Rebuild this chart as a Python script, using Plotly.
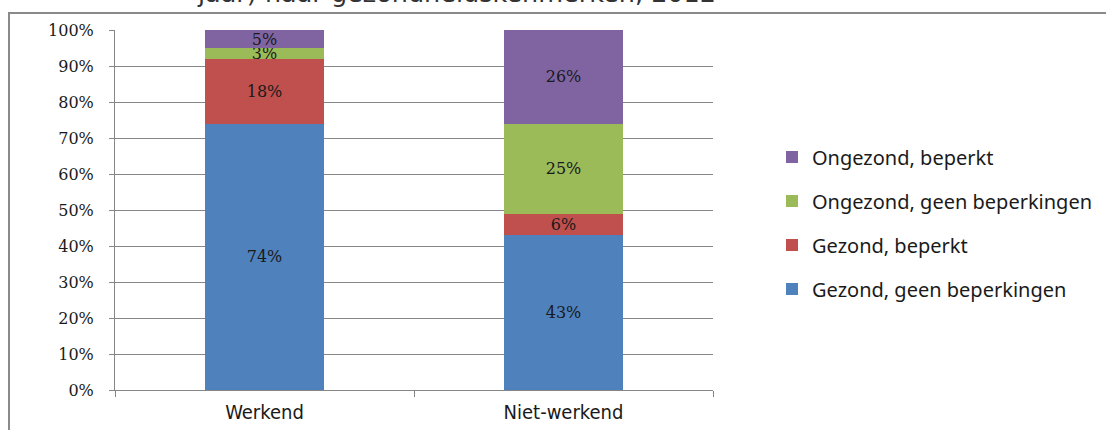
import plotly.graph_objects as go

categories = ["Werkend", "Niet-werkend"]
series_names = ["Gezond, geen beperkingen", "Gezond, beperkt", "Ongezond, geen beperkingen", "Ongezond, beperkt"]
gezond_geen = [74, 43]
gezond_beperkt = [18, 6]
ongezond_geen = [3, 25]
ongezond_beperkt = [5, 26]
colors = ["#4F81BD", "#C0504D", "#9BBB59", "#8064A2"]
y_ticks = [0, 10, 20, 30, 40, 50, 60, 70, 80, 90, 100]
title_text = "jaar) naar gezondheidskenmerken, 2012"

W, H = 1106, 430
L, R, T, B = 115, 393, 30, 40
pw, ph = W - L - R, H - T - B

fig = go.Figure()
all_vals = [gezond_geen, gezond_beperkt, ongezond_geen, ongezond_beperkt]
for i, (name, vals) in enumerate(zip(series_names, all_vals)):
    fig.add_trace(go.Bar(
        x=categories, y=vals, name=name, marker_color=colors[i],
        marker_line_width=0, width=0.4,
        text=[f"{v}%" for v in vals], textposition="inside", insidetextanchor="middle",
        textangle=0, constraintext="none",
        textfont=dict(family="DejaVu Serif", size=16, color="#1a1a1a"),
        legendgroup=name, legendrank=len(series_names) - i, hoverinfo="skip",
    ))

fig.update_layout(
    width=W, height=H, barmode="stack",
    margin=dict(l=L, r=R, t=T, b=B, autoexpand=False),
    paper_bgcolor="white", plot_bgcolor="white",
    showlegend=True,
    legend=dict(traceorder="grouped", tracegroupgap=15,
                x=(772 - L) / pw, y=1 - (223 - T) / ph, xanchor="left", yanchor="middle",
                font=dict(family="Noto Sans", size=20, color="#1a1a1a"),
                itemwidth=30),
    xaxis=dict(tickson="boundaries", ticks="outside", ticklen=6, tickcolor="#868686",
               showline=True, linecolor="#868686", showgrid=False, automargin=False,
               tickfont=dict(family="DejaVu Sans Condensed, DejaVu Sans", size=20, color="#1a1a1a"),
               range=[-0.5, 1.5], ticklabelstandoff=4),
    yaxis=dict(range=[0, 100], tickvals=y_ticks, ticktext=[f"{v}%" for v in y_ticks],
               ticks="outside", ticklen=5, tickcolor="#868686", automargin=False,
               showline=True, linecolor="#868686", showgrid=True, gridcolor="#868686", gridwidth=1,
               tickfont=dict(family="DejaVu Serif", size=16, color="#1a1a1a"),
               zeroline=False, ticklabelstandoff=12),
    shapes=[dict(type="rect", xref="paper", yref="paper",
                 x0=(9 - L) / pw, x1=(1200 - L) / pw,
                 y0=1 - (500 - T) / ph, y1=1 + (T - 13) / ph,
                 line=dict(color="#8a8a8a", width=2), fillcolor="rgba(0,0,0,0)", layer="below")],
    annotations=[dict(text=title_text, xref="paper", yref="paper",
                      x=(457 - L) / pw, y=1 + (T + 7) / ph, xanchor="center", yanchor="middle",
                      showarrow=False, font=dict(family="DejaVu Sans", size=25.5, color="#333333"))],
)

fig.write_html("out.html", config={"displayModeBar": False},
               post_script="document.body.style.margin='0';document.body.style.overflow='hidden';")
